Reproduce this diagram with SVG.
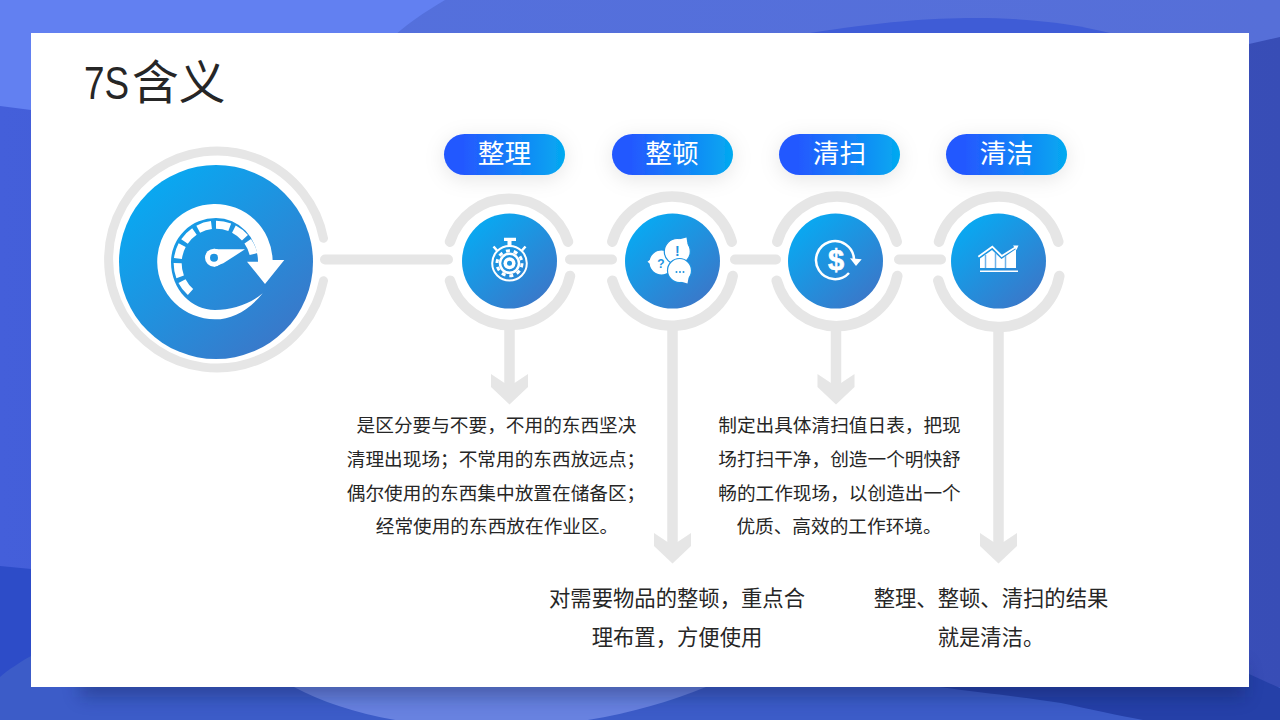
<svg xmlns="http://www.w3.org/2000/svg" width="1280" height="720" viewBox="0 0 1280 720">
<style>
.ring{fill:none;stroke:#e6e6e6;stroke-width:10.500;stroke-linecap:round}
.bar{fill:none;stroke:#e6e6e6;stroke-width:10;stroke-linecap:round}
.shaft{fill:none;stroke:#e6e6e6;stroke-width:10.500}
.head{fill:#e6e6e6}
.pl{font-family:"Noto Sans CJK SC","Noto Sans",sans-serif;font-size:26.67px;fill:#fff;text-anchor:middle}
.t1{font-family:"Noto Sans CJK SC","Noto Sans",sans-serif;font-size:18.67px;fill:#262626;text-anchor:middle}
.t2{font-family:"Noto Sans CJK SC","Noto Sans",sans-serif;font-size:21.33px;fill:#262626;text-anchor:middle}
.w{fill:#fff}
.wl{fill:none;stroke:#fff}
.b{fill:#fff;stroke:#1e93e0;stroke-width:1.200}
.g{font-family:"Liberation Sans",sans-serif;font-weight:bold;text-anchor:middle}
</style>
<defs>
<linearGradient id="bg" x1="0" y1="0" x2="1" y2="0"><stop offset="0" stop-color="#445fda"/><stop offset="1" stop-color="#384db6"/></linearGradient>
<linearGradient id="tb" x1="0" y1="0" x2="1" y2="0"><stop offset="0" stop-color="#5370de"/><stop offset="1" stop-color="#566fd8"/></linearGradient>
<linearGradient id="cg" x1="0.15" y1="0.1" x2="0.85" y2="0.9"><stop offset="0" stop-color="#08a9f2"/><stop offset="1" stop-color="#3a78c9"/></linearGradient>
<linearGradient id="pg" x1="0" y1="0" x2="1" y2="0"><stop offset="0.15" stop-color="#2458ff"/><stop offset="1" stop-color="#04aaf0"/></linearGradient>
<filter id="ps" x="-30%" y="-80%" width="160%" height="280%"><feDropShadow dx="0" dy="4" stdDeviation="10" flood-color="#000" flood-opacity="0.10"/></filter>
<filter id="sb" x="-5%" y="-60%" width="110%" height="220%"><feGaussianBlur stdDeviation="9"/></filter>
</defs>
<g id="background">
<rect width="1280" height="720" fill="url(#bg)"/>
<path d="M0 0H1280V37L1249 44V60H0Z" fill="url(#tb)"/>
<path d="M0 0H445C425 12 405 24 385 45V112L31 110L0 106Z" fill="#6280f1"/>
<path d="M810 33C880 22 930 18 975 18C1030 18 1075 24 1110 33V50H810Z" fill="#3f5cd6"/>
<path d="M0 566L31 569V687H0Z" fill="#2d4cc8"/>
<path d="M31 687H1280V720H0V677C8 670 20 662 31 656Z" fill="#3c5cc8"/>
<path d="M294 687C340 712 410 728 490 728C570 728 645 712 706 687Z" fill="#6882e0"/>
<path d="M939 687C985 693 1030 698 1061 703C1090 709 1120 716 1143 720H1280V688L1249 674V687Z" fill="#2540a8"/>
<rect x="80" y="665" width="1165" height="32" fill="#101a50" opacity="0.35" filter="url(#sb)"/>
</g>
<rect id="panel" x="31" y="33" width="1218" height="654" fill="#fff"/>
<g id="title">
<text transform="translate(84 99) scale(0.79 1)" font-family="'Liberation Sans',sans-serif" font-size="46.67px" fill="#262626">7S</text>
<text x="132" y="99" font-family="'Noto Sans CJK SC','Noto Sans',sans-serif" font-size="46.67px" fill="#262626">含义</text>
</g>
<g id="connectors">
<path class="bar" d="M325 259.500H448M570 259.500H612M735 259.500H776M899 259.500H941"/>
<path class="shaft" d="M509.500 327V395M672.500 327V554M836 327V395M998.500 327V554"/>
<path class="head" d="M491 374L504.500 383H514.500L528 374V387L509.500 404.500L491 387Z"/>
<path class="head" d="M654 533L667.500 542H677.500L691 533V546L672.500 563.500L654 546Z"/>
<path class="head" d="M817.500 374L831 383H841L854.500 374V387L836 404.500L817.500 387Z"/>
<path class="head" d="M980 533L993.500 542H1003.500L1017 533V546L998.500 563.500L980 546Z"/>
</g>
<g id="hub">
<path class="ring" d="M323.500 238.300A108.500 108.500 0 1 0 323.500 280.700" style="stroke-width:9"/>
<circle cx="216" cy="262" r="97" fill="url(#cg)"/>
<path class="w" d="M262.700 293.300C248 311 232 319.300 215.300 319.300A57.700 57.700 0 1 1 272.600 260H284.300L265 284L247 261.700H258A42 44 0 0 0 216 218A45 44 0 0 0 171 262C171 290 192 310 215 310C232 310 250 304 262.700 293.300Z"/>
<path class="wl" d="M190.500 292A38.500 38.500 0 1 1 254.300 258" stroke-width="8" stroke-dasharray="14 4.500"/>
<path class="w" d="M214 248.700L218.300 249.300L245 249.300L223.300 263.300L214 266.700Z"/>
<circle cx="214" cy="257.700" r="9" class="w"/>
<circle cx="214" cy="257.700" r="4" fill="#1e93e0"/>
</g>
<g id="node1">
<g filter="url(#ps)"><rect x="444" y="134" width="121" height="41" rx="20.500" fill="url(#pg)"/></g>
<text class="pl" x="504.500" y="163">整理</text>
<path class="ring" d="M450 241.700A62 62 0 0 1 568 241.700M450 280.700A62 62 0 0 0 570 276"/>
<circle cx="509.500" cy="261" r="47.500" fill="url(#cg)"/>
<path class="w" d="M504 237.700H516V241H511.500V246H507.500V241H504Z"/>
<path class="wl" d="M497 250.500L493.500 246.500M522 250.500L525.500 246.500" stroke-width="2.500"/>
<circle cx="509.500" cy="263.300" r="17.300" class="wl" stroke-width="2"/>
<circle cx="509.500" cy="263.300" r="12.500" class="wl" stroke-width="3" stroke-dasharray="4 3.850"/>
<circle cx="509.500" cy="263.300" r="9.500" class="wl" stroke-width="2.500"/>
<circle cx="509.500" cy="263.300" r="6" class="w"/>
<circle cx="509.500" cy="263.300" r="2.500" fill="#1e93e0"/>
</g>
<g id="node2">
<g filter="url(#ps)"><rect x="612" y="134" width="121" height="41" rx="20.500" fill="url(#pg)"/></g>
<text class="pl" x="672" y="163">整顿</text>
<path class="ring" d="M612.300 241.700A62 62 0 0 1 731.700 241.700M612.300 280.700A62 62 0 0 0 732.700 276"/>
<circle cx="672.500" cy="261" r="47.500" fill="url(#cg)"/>
<circle class="b" cx="661.500" cy="262.500" r="12.500"/>
<path class="w" d="M647.500 261.700L656 255L655 268Z"/>
<circle class="b" cx="677.300" cy="251.500" r="13"/>
<path class="w" d="M686.500 237.500L677 240L688 248Z"/>
<circle class="b" cx="679.500" cy="270.500" r="12"/>
<path class="w" d="M687.500 283.500L679 281L689 275Z"/>
<text class="g" x="677.300" y="256" font-size="14" fill="#1e93e0">!</text>
<text class="g" x="661" y="268" font-size="12" fill="#1e93e0">?</text>
<circle cx="676.500" cy="272" r="1" fill="#1e93e0"/><circle cx="680" cy="272" r="1" fill="#1e93e0"/><circle cx="683.500" cy="272" r="1" fill="#1e93e0"/>
</g>
<g id="node3">
<g filter="url(#ps)"><rect x="779" y="134" width="121" height="41" rx="20.500" fill="url(#pg)"/></g>
<text class="pl" x="839.500" y="163">清扫</text>
<path class="ring" d="M777.300 241.700A62 62 0 0 1 896.700 241.700M776.700 280.700A62 62 0 0 0 897.300 276"/>
<circle cx="835.500" cy="261" r="47.500" fill="url(#cg)"/>
<path class="wl" d="M854 259A19 19 0 1 0 849 273" stroke-width="2.500"/>
<path class="w" d="M850 258.300L861.700 259.300L856 266Z"/>
<text class="g" x="836" y="270" font-size="29" fill="#fff" stroke="#fff" stroke-width="0.600">$</text>
</g>
<g id="node4">
<g filter="url(#ps)"><rect x="946" y="134" width="121" height="41" rx="20.500" fill="url(#pg)"/></g>
<text class="pl" x="1006.500" y="163">清洁</text>
<path class="ring" d="M939 241.700A62 62 0 0 1 1058.300 241.700M938.300 280.700A62 62 0 0 0 1059.300 276"/>
<circle cx="998.500" cy="261" r="47.500" fill="url(#cg)"/>
<path class="w" d="M980 268V258.500L992 250L1001.500 259L1016 249V268Z"/>
<path d="M985.500 255V268M995.500 253V268M1005.500 256V268" fill="none" stroke="#6fb3ea" stroke-width="1.500"/>
<path class="wl" d="M978.300 256.700L992.300 246.700L1001.700 256L1016 247" stroke-width="1.800"/>
<path class="w" d="M1013 245.500L1018.500 245.500L1016.500 250Z"/>
<rect x="980" y="270.500" width="38" height="1.500" class="w"/>
</g>
<g id="desc1">
<text class="t1" x="496.500" y="432">是区分要与不要，不用的东西坚决</text>
<text class="t1" x="496" y="466">清理出现场；不常用的东西放远点；</text>
<text class="t1" x="496" y="500">偶尔使用的东西集中放置在储备区；</text>
<text class="t1" x="497" y="533">经常使用的东西放在作业区。</text>
</g>
<g id="desc2">
<text class="t2" x="677" y="606">对需要物品的整顿，重点合</text>
<text class="t2" x="677" y="645">理布置，方便使用</text>
</g>
<g id="desc3">
<text class="t1" x="839.500" y="432">制定出具体清扫值日表，把现</text>
<text class="t1" x="839.500" y="466">场打扫干净，创造一个明快舒</text>
<text class="t1" x="839.500" y="500">畅的工作现场，以创造出一个</text>
<text class="t1" x="839" y="533">优质、高效的工作环境。</text>
</g>
<g id="desc4">
<text class="t2" x="991" y="606">整理、整顿、清扫的结果</text>
<text class="t2" x="991" y="645">就是清洁。</text>
</g>
</svg>
